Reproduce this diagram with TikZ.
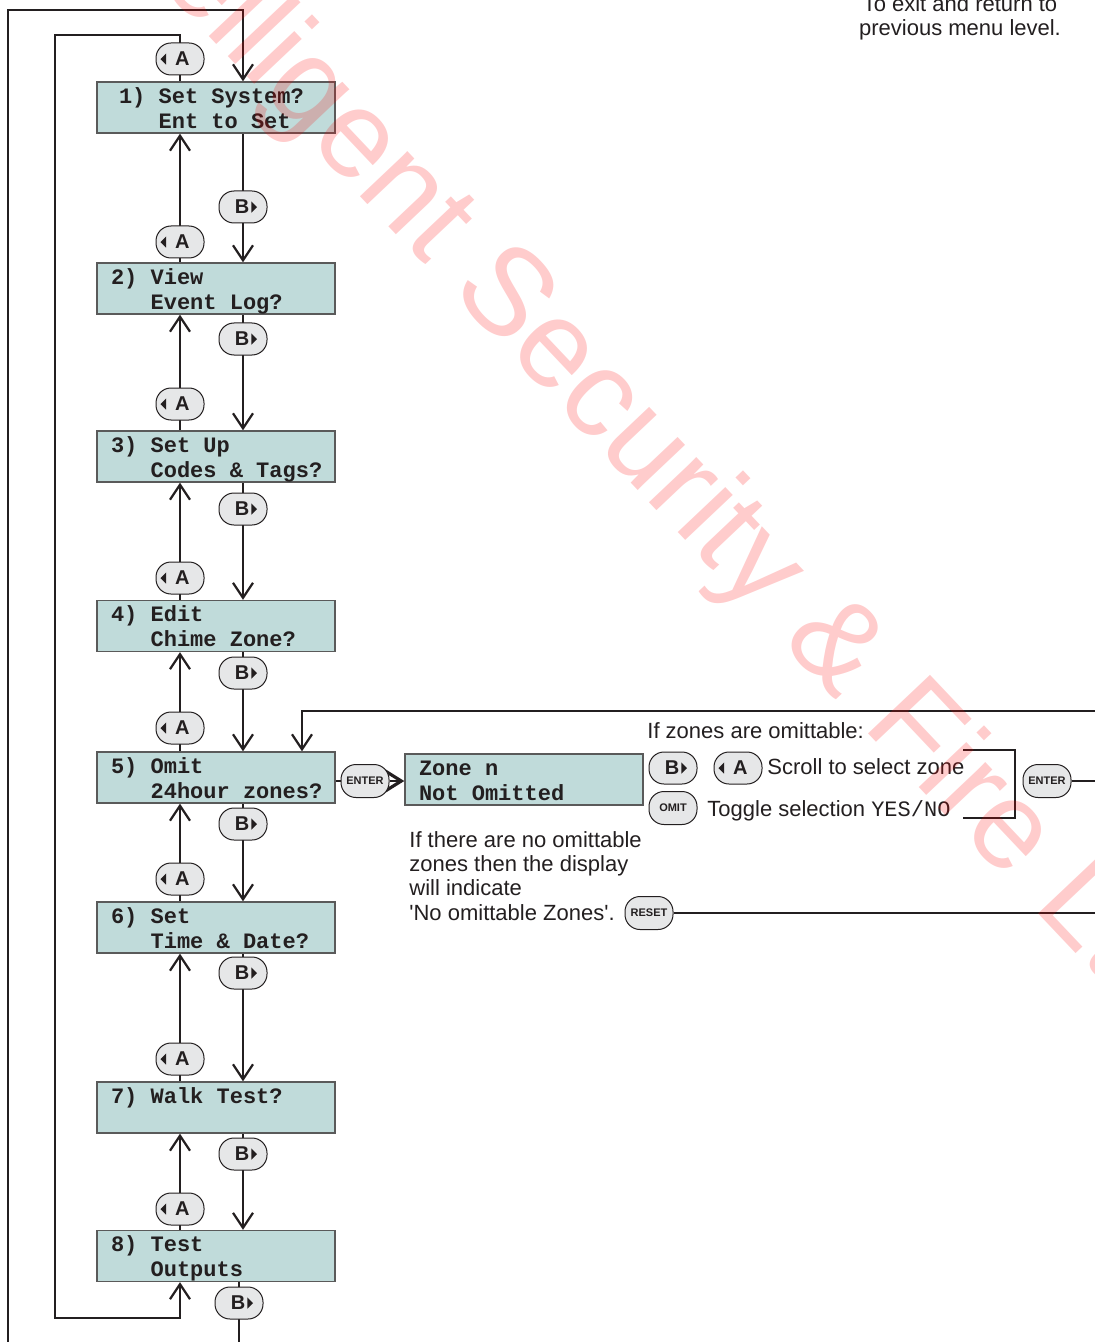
\documentclass[tikz,border=0pt]{standalone}
\usepackage{fontspec}
\setmainfont{Liberation Sans}
\setmonofont{Liberation Mono}
\usetikzlibrary{arrows.meta,backgrounds}
\definecolor{lcdfill}{RGB}{192,219,218}
\definecolor{lcdedge}{RGB}{90,90,90}
\definecolor{keyfill}{RGB}{230,231,232}
\definecolor{ink}{RGB}{35,31,32}
\newcommand\ltri{\tikz[baseline=-3.4pt,sharp corners]\fill[ink] (0,0) -- (2.8pt,2.8pt) -- (2.8pt,-2.8pt) -- cycle;}
\newcommand\rtri{\tikz[baseline=-3.4pt,sharp corners]\fill[ink] (0,0) -- (-2.8pt,2.8pt) -- (-2.8pt,-2.8pt) -- cycle;}
\newcommand\keyA{\ltri\hspace{4.5pt}A\hspace*{5pt}}
\newcommand\keyB{\hspace*{3pt}B\hspace{1pt}\rtri}
\newcommand\ind{\phantom{1) }}
\newcommand\lcdtext[2]{\spaceskip=0.6em\relax\xspaceskip=0.6em\relax
  \mbox{\rule{0pt}{10.5pt}#1}\\\mbox{#2\rule[-2pt]{0pt}{2pt}}}

\begin{document}
\begin{tikzpicture}[x=0.5pt,y=-0.5pt,
  lcd/.style={draw=lcdedge,fill=lcdfill,line width=0.7pt,text width=105pt,inner xsep=7pt,inner ysep=0pt,
    minimum height=25.5pt,align=left,text=ink,font=\fontsize{11}{12.5}\selectfont\ttfamily\bfseries},
  key/.style={draw=ink,fill=keyfill,line width=0.5pt,rounded corners=7.5pt,minimum width=24pt,
    minimum height=16pt,inner sep=0pt,text=ink,font=\fontsize{10}{10}\selectfont\bfseries},
  smallkey/.style={key,minimum height=16.5pt,font=\fontsize{5.5}{5.5}\selectfont\bfseries},
  txt/.style={inner sep=0pt,text=ink,align=left,font=\fontsize{11}{12.15}\selectfont},
  line/.style={draw=ink,line width=1.1pt},
  go/.style={line,-{Straight Barb[length=7.5pt,width=10pt]}},
]
\useasboundingbox (0,0) rectangle (1095,1342);

% menu displays
\node[lcd,inner xsep=11pt,text width=97pt] (m1) at (216,107.5) {\lcdtext{1) Set System?}{\ind Ent to Set}};
\node[lcd] (m2) at (216,288.5) {\lcdtext{2) View}{\ind Event Log?}};
\node[lcd] (m3) at (216,456.5) {\lcdtext{3) Set Up}{\ind Codes \& Tags?}};
\node[lcd] (m4) at (216,626) {\lcdtext{4) Edit}{\ind Chime Zone?}};
\node[lcd] (m5) at (216,777.5) {\lcdtext{5) Omit}{\ind 24hour zones?}};
\node[lcd] (m6) at (216,927.5) {\lcdtext{6) Set}{\ind Time \& Date?}};
\node[lcd] (m7) at (216,1107.5) {\lcdtext{7) Walk Test?}{}};
\node[lcd] (m8) at (216,1256) {\lcdtext{8) Test}{\ind Outputs}};
\node[lcd] (zone) at (524,779.5) {\lcdtext{Zone n}{Not Omitted}};

% keys
\node[key] (a0) at (180,59) {\keyA};
\foreach \n/\y in {1/242,2/404,3/578,4/728,5/879,6/1059,7/1209}
  \node[key] (a\n) at (180,\y) {\keyA};
\foreach \n/\y in {1/207,2/339,3/509,4/673,5/824,6/973,7/1154}
  \node[key] (b\n) at (243,\y) {\keyB};
\node[key] (b8) at (239,1303) {\keyB};
\node[smallkey] (enter) at (365,781) {ENTER};
\node[smallkey] (enter2) at (1047,781) {ENTER};
\node[key] (kb) at (673,768) {\keyB};
\node[key] (ka) at (738,768) {\keyA};
\node[smallkey] (omit) at (673,808) {OMIT};
\node[smallkey] (reset) at (649,913) {RESET};

% notes
\node[txt,anchor=north,align=center] (exit) at (960,-5) {To exit and return to\\previous menu level.};
\node[txt,anchor=base west] (ifzones) at (647,738) {If zones are omittable:};
\node[txt,anchor=base west] (scroll) at (767,774) {Scroll to select zone};
\node[txt,anchor=base west] (toggle) at (707,816) {Toggle selection {\ttfamily YES/NO}};
\node[txt,anchor=north west] (nozones) at (409,831)
  {If there are no omittable\\zones then the display\\will indicate\\\textquotesingle No omittable Zones\textquotesingle.};

\coordinate (inTL) at (55,35);
\coordinate (inBL) at (55,1318);
\coordinate (outTL) at (8,10);
\coordinate (outBL) at (8,1342);
\coordinate (retR) at (1095,711);
\coordinate (ret) at (302,711);
\coordinate (brT) at (963,750);
\coordinate (brB) at (963,818);
\coordinate (enterR) at (1095,781);
\coordinate (resetR) at (1095,913);

\begin{scope}[on background layer]
\foreach \i [evaluate=\i as \j using int(\i+1)] in {1,...,7} {
  \draw[go] (m\i.south -| b\i) -- (m\j.north -| b\i);
  \draw[go] (m\j.north -| a\i) -- (m\i.south -| a\i);
}
\draw[go] (m1.north -| a0) -- (a0 |- inTL) -- (inTL) -- (inBL) -- (inBL -| a0) -- (m8.south -| a0);
\draw[go] (outBL) -- (outTL) -- (outTL -| b1) -- (m1.north -| b1);
\draw[line] (m8.south -| b8) -- (b8 |- outBL);
\draw[go] (retR) -- (ret) -- (ret |- m5.north);
\draw[line] (m5.east |- enter) -- (enter);
\draw[line,-{Straight Barb[length=8pt,width=10pt,line width=1.6pt]}] (enter) -- (zone.west |- enter);
\draw[line] (brT) -- ++(52,0) |- (brB);
\draw[line] (enter2) -- (enterR);
\draw[line] (reset) -- (resetR);
\end{scope}

% watermark
\node[rotate=-46.6,anchor=base west,inner sep=0pt,text=red,text opacity=0.2,
  font=\fontsize{62}{62}\selectfont] (mark) at (61,-120) {Intelligent Security \& Fire Ltd};
\end{tikzpicture}
\end{document}
